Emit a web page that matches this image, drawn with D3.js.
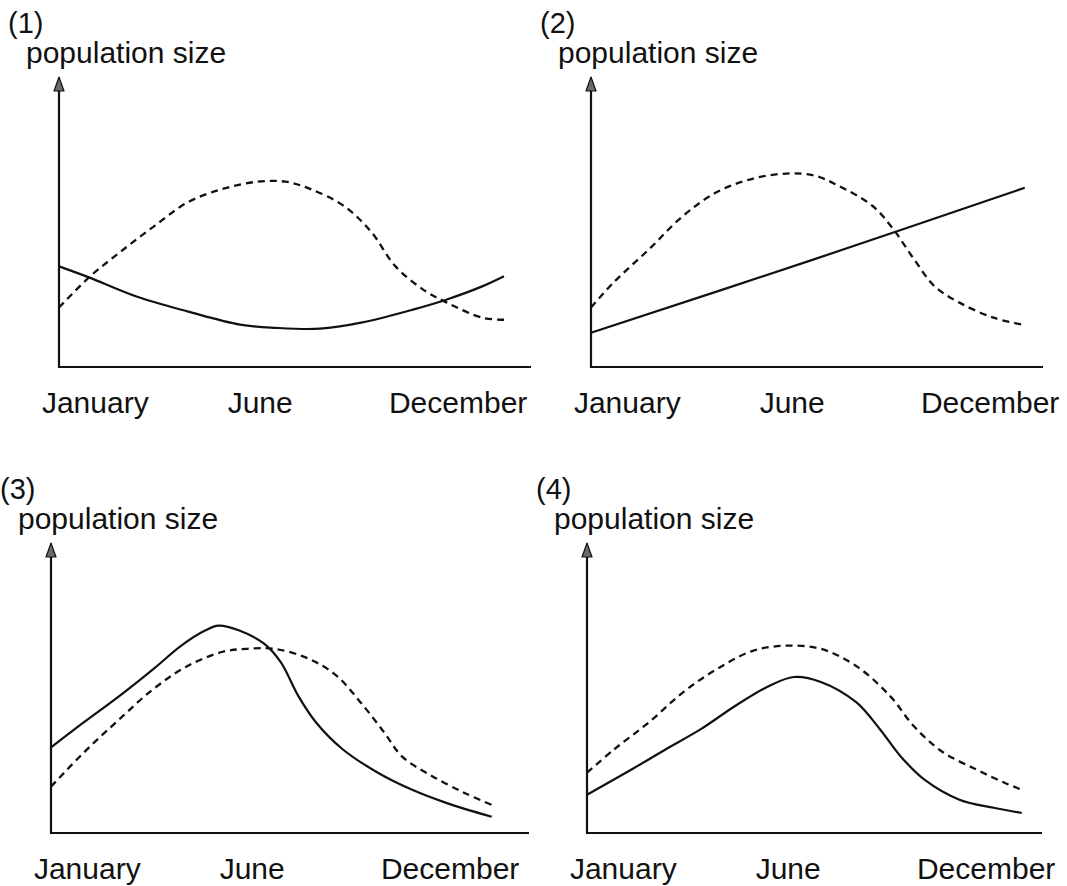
<!DOCTYPE html>
<html>
<head>
<meta charset="utf-8">
<script src="https://cdn.jsdelivr.net/npm/d3@7"></script>
<style>
  html, body { margin: 0; padding: 0; background: #fff; }
  svg { display: block; font-family: "Liberation Sans", Arial, sans-serif; }
</style>
</head>
<body>
<svg id="chart" width="1067" height="886"></svg>
<script>
// ---------- data ----------
const panelLabels = ["(1)", "(2)", "(3)", "(4)"];
const yAxisTitle = "population size";
const monthLabels = ["January", "June", "December"];
const monthTicks = [1, 6, 12];

// [month, population (relative, 0-100)]
const p1Solid = [[-0.1,34.7],[0.81,30.9],[2.25,24.3],[3.82,19.1],[5.39,14.6],[6.46,13.5],[7.81,13.2],[9.06,15.3],[10.63,19.8],[11.66,23.3],[12.73,27.8],[13.39,31.3]];
const p1Dashed = [[-0.1,20.5],[0.81,30.9],[1.75,39.6],[2.79,48.6],[3.82,56.9],[4.89,61.5],[5.92,63.9],[6.77,63.9],[7.49,61.5],[8.53,55.6],[9.37,46.5],[10.10,34.7],[10.94,26.7],[11.66,22.2],[12.73,17.0],[13.39,16.3]];

const p2Solid = [[-0.1,11.8],[6.68,37.2],[13.05,61.8]];
const p2Dashed = [[-0.1,20.5],[0.59,29.2],[1.66,40.6],[2.69,52.1],[3.73,60.4],[4.79,64.9],[5.83,66.7],[6.68,66.0],[7.40,62.5],[8.43,55.6],[9.06,47.6],[9.69,37.2],[10.32,27.8],[11.07,22.2],[12.10,17.0],[12.98,14.6]];

const p3Solid = [[-0.1,29.5],[0.90,38.2],[1.97,47.2],[3.01,56.6],[3.85,64.6],[4.57,69.8],[4.98,71.5],[5.61,69.8],[6.36,65.3],[6.86,59.0],[7.40,47.2],[7.93,38.2],[8.75,28.8],[9.81,20.8],[10.85,14.9],[11.88,10.4],[13.26,5.6]];
const p3Dashed = [[-0.1,16.0],[0.90,27.8],[1.97,39.2],[3.01,49.7],[4.04,57.6],[5.11,62.5],[5.83,63.5],[6.68,63.5],[7.71,60.1],[8.56,54.2],[9.28,45.1],[10.00,34.7],[10.54,26.4],[11.38,20.1],[12.42,13.9],[13.26,9.7]];

const p4Solid = [[-0.1,13.2],[1.25,21.9],[2.28,28.8],[3.35,35.8],[4.39,43.8],[5.42,50.7],[6.17,53.8],[6.99,52.1],[8.06,45.1],[8.78,35.8],[9.41,26.4],[10.13,18.4],[11.19,11.5],[12.23,8.7],[13.08,6.9]];
const p4Dashed = [[-0.1,20.8],[0.72,28.8],[1.78,38.2],[2.82,48.6],[3.85,56.6],[4.92,62.8],[5.95,64.6],[6.99,63.5],[8.06,57.6],[9.09,47.2],[9.81,36.8],[10.66,28.1],[11.70,21.9],[12.54,17.4],[13.08,14.9]];

const solidSeries = [p1Solid, p2Solid, p3Solid, p4Solid];
const dashedSeries = [p1Dashed, p2Dashed, p3Dashed, p4Dashed];

// ---------- layout ----------
const layout = [
  { ox: 59,  oy: 367, len: 472 },
  { ox: 591, oy: 367, len: 452 },
  { ox: 51,  oy: 833, len: 478 },
  { ox: 587, oy: 833, len: 455 }
];
const plotH = 290;

const svg = d3.select("#chart");
const x = d3.scaleLinear().domain([-0.1, 14.3]).range([0, 475]);
const y = d3.scaleLinear().domain([0, 100]).range([0, -plotH]);

const line = d3.line()
  .x(d => x(d[0]))
  .y(d => y(d[1]))
  .curve(d3.curveCatmullRom.alpha(0.5));

layout.forEach((L, i) => {
  const g = svg.append("g").attr("transform", `translate(${L.ox},${L.oy})`);

  g.append("text").attr("x", -51).attr("y", -334)
    .attr("font-size", 29).attr("fill", "#111").text(panelLabels[i]);
  g.append("text").attr("x", -33).attr("y", -304)
    .attr("font-size", 30).attr("fill", "#111").text(yAxisTitle);

  g.append("line").attr("x1", 0).attr("y1", 0).attr("x2", L.len).attr("y2", 0)
    .attr("stroke", "#111").attr("stroke-width", 2.2);
  g.append("line").attr("x1", 0).attr("y1", 1).attr("x2", 0).attr("y2", y(100) + 8)
    .attr("stroke", "#111").attr("stroke-width", 2.2);
  const t = y(100);
  g.append("path")
    .attr("d", `M0,${t} L-5,${t + 14} L5,${t + 14} Z`)
    .attr("fill", "#6a6a6a").attr("stroke", "#111").attr("stroke-width", 1.2)
    .attr("stroke-linejoin", "round");

  g.selectAll("text.month").data(monthTicks).enter().append("text")
    .attr("class", "month")
    .attr("x", d => x(d)).attr("y", 46)
    .attr("text-anchor", "middle")
    .attr("font-size", 30).attr("fill", "#111")
    .text((d, j) => monthLabels[j]);

  g.append("path").datum(dashedSeries[i]).attr("d", line)
    .attr("fill", "none").attr("stroke", "#111").attr("stroke-width", 2.3)
    .attr("stroke-dasharray", "7,5");
  g.append("path").datum(solidSeries[i]).attr("d", line)
    .attr("fill", "none").attr("stroke", "#111").attr("stroke-width", 2.2);
});
</script>
</body>
</html>
